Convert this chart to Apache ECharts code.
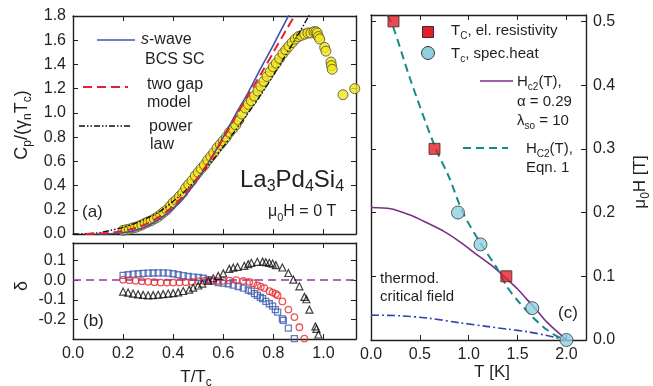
<!DOCTYPE html>
<html>
<head>
<meta charset="utf-8">
<script src="https://cdn.jsdelivr.net/npm/echarts@6/dist/echarts.min.js"></script>
<style>
  html, body { margin: 0; background: #fff; }
  #chart { width: 653px; height: 386px; }
</style>
</head>
<body>
<div id="chart"></div>
<script>
// (a) specific heat, Cp/(gamma_n Tc) vs T/Tc
const cpPoints = [
  [0.200, 0.03], [0.212, 0.035], [0.225, 0.04], [0.238, 0.05], [0.250, 0.055], [0.262, 0.065],
  [0.275, 0.075], [0.288, 0.09], [0.300, 0.10], [0.312, 0.11], [0.325, 0.125], [0.338, 0.14],
  [0.350, 0.16], [0.362, 0.18], [0.375, 0.20], [0.388, 0.23], [0.400, 0.26], [0.412, 0.28],
  [0.425, 0.31], [0.438, 0.34], [0.450, 0.38], [0.462, 0.41], [0.475, 0.44], [0.488, 0.48],
  [0.500, 0.51], [0.512, 0.54], [0.525, 0.57], [0.538, 0.61], [0.550, 0.64], [0.562, 0.67],
  [0.575, 0.71], [0.588, 0.74], [0.600, 0.77], [0.612, 0.80], [0.625, 0.84], [0.638, 0.87],
  [0.650, 0.90], [0.662, 0.94], [0.675, 0.99], [0.688, 1.04], [0.700, 1.07], [0.712, 1.10],
  [0.725, 1.14], [0.738, 1.18], [0.750, 1.22], [0.762, 1.26], [0.775, 1.30], [0.788, 1.34],
  [0.800, 1.38], [0.812, 1.41], [0.825, 1.45], [0.838, 1.49], [0.850, 1.52], [0.862, 1.55],
  [0.875, 1.58], [0.888, 1.61], [0.900, 1.63], [0.912, 1.64], [0.925, 1.65], [0.938, 1.66],
  [0.950, 1.66], [0.962, 1.67], [0.970, 1.67], [0.975, 1.66], [0.980, 1.63], [0.985, 1.61],
  [1.005, 1.54], [1.010, 1.51], [1.030, 1.42], [1.032, 1.39], [1.035, 1.36], [1.078, 1.15],
  [1.125, 1.20]
];
const bcsCurve = [
  [0.10, 0.0], [0.15, 0.002], [0.20, 0.01], [0.25, 0.03], [0.30, 0.07], [0.35, 0.13],
  [0.40, 0.21], [0.45, 0.32], [0.50, 0.46], [0.55, 0.62], [0.60, 0.80], [0.65, 0.99],
  [0.70, 1.17], [0.75, 1.37], [0.80, 1.56], [0.85, 1.76], [0.865, 1.82]
];
const twoGapCurve = [
  [0.05, 0.0], [0.10, 0.003], [0.15, 0.01], [0.20, 0.025], [0.25, 0.05], [0.30, 0.09],
  [0.35, 0.15], [0.40, 0.23], [0.45, 0.34], [0.50, 0.47], [0.55, 0.62], [0.60, 0.79],
  [0.65, 0.97], [0.70, 1.15], [0.75, 1.32], [0.80, 1.50], [0.85, 1.68], [0.89, 1.82]
];
const powerLawCurve = [
  [0.0, 0.0], [0.05, 0.002], [0.10, 0.01], [0.15, 0.03], [0.20, 0.055], [0.25, 0.09],
  [0.30, 0.135], [0.35, 0.19], [0.40, 0.27], [0.45, 0.36], [0.50, 0.47], [0.55, 0.59],
  [0.60, 0.72], [0.65, 0.86], [0.70, 1.00], [0.75, 1.15], [0.80, 1.31], [0.85, 1.48],
  [0.90, 1.65], [0.944, 1.81]
];

// (b) deviation delta of the data from each model
const deltaBcs = [
  [0.200, 0.025], [0.220, 0.028], [0.240, 0.031], [0.260, 0.033], [0.280, 0.035], [0.300, 0.036],
  [0.320, 0.037], [0.340, 0.038], [0.360, 0.038], [0.380, 0.036], [0.400, 0.033], [0.420, 0.028],
  [0.440, 0.023], [0.460, 0.019], [0.480, 0.016], [0.500, 0.014], [0.520, 0.010], [0.540, 0.003],
  [0.560, -0.005], [0.580, -0.012], [0.600, -0.015], [0.620, -0.018], [0.640, -0.025], [0.660, -0.032],
  [0.680, -0.040], [0.700, -0.050], [0.712, -0.056], [0.725, -0.068], [0.736, -0.077], [0.748, -0.088],
  [0.757, -0.094], [0.770, -0.108], [0.784, -0.120], [0.797, -0.132], [0.808, -0.150], [0.817, -0.163],
  [0.836, -0.197], [0.840, -0.205], [0.860, -0.245], [0.884, -0.298]
];
const deltaTwoGap = [
  [0.200, 0.003], [0.225, 0.000], [0.250, -0.003], [0.275, -0.005], [0.300, -0.008], [0.325, -0.010],
  [0.350, -0.012], [0.375, -0.012], [0.400, -0.012], [0.425, -0.011], [0.450, -0.010], [0.475, -0.008],
  [0.500, -0.005], [0.525, -0.004], [0.550, -0.004], [0.575, -0.004], [0.600, -0.003], [0.625, -0.002],
  [0.652, 0.000], [0.680, -0.004], [0.704, -0.008], [0.720, -0.015], [0.736, -0.026], [0.750, -0.033],
  [0.764, -0.040], [0.784, -0.056], [0.797, -0.063], [0.810, -0.070], [0.817, -0.077], [0.836, -0.108],
  [0.860, -0.150], [0.884, -0.188], [0.904, -0.240], [0.924, -0.298]
];
const deltaPower = [
  [0.200, -0.058], [0.220, -0.063], [0.240, -0.068], [0.260, -0.072], [0.280, -0.075], [0.300, -0.077],
  [0.320, -0.076], [0.340, -0.074], [0.360, -0.071], [0.380, -0.068], [0.400, -0.066], [0.420, -0.062],
  [0.440, -0.055], [0.464, -0.048], [0.480, -0.038], [0.500, -0.027], [0.516, -0.017], [0.540, -0.002],
  [0.560, 0.010], [0.580, 0.022], [0.600, 0.035], [0.624, 0.058], [0.640, 0.064], [0.657, 0.068],
  [0.684, 0.073], [0.700, 0.082], [0.712, 0.089], [0.736, 0.094], [0.757, 0.095], [0.770, 0.092],
  [0.784, 0.089], [0.797, 0.085], [0.810, 0.077], [0.836, 0.065], [0.860, 0.037], [0.880, 0.003],
  [0.904, -0.031], [0.924, -0.085], [0.932, -0.097], [0.944, -0.150], [0.968, -0.236], [0.972, -0.248],
  [0.980, -0.277]
];

// (c) phase diagram, mu0H [T] vs T [K]
const tcResistivity = [[0.23, 0.50], [0.65, 0.30], [1.385, 0.10]];
const tcSpecHeat = [[0.89, 0.20], [1.12, 0.15], [1.65, 0.05], [2.0, 0.0]];
const hc2Whh = [
  [0.0, 0.208], [0.2, 0.206], [0.4, 0.196], [0.57, 0.184], [0.75, 0.170], [0.91, 0.154],
  [1.1, 0.132], [1.25, 0.115], [1.38, 0.097], [1.5, 0.080], [1.6, 0.063], [1.7, 0.046],
  [1.8, 0.028], [1.9, 0.014], [2.0, 0.0]
];
const hc2Eqn1 = [
  [0.17, 0.51], [0.23, 0.49], [0.4, 0.41], [0.65, 0.305], [0.8, 0.255], [0.94, 0.20],
  [1.12, 0.152], [1.3, 0.11], [1.39, 0.084], [1.5, 0.062], [1.66, 0.035], [1.8, 0.016],
  [1.9, 0.006], [2.0, 0.0]
];
const hcThermo = [
  [0.0, 0.039], [0.3, 0.038], [0.6, 0.034], [0.91, 0.027], [1.2, 0.021], [1.4, 0.017],
  [1.6, 0.013], [1.8, 0.007], [2.0, 0.0]
];

const FONT = 'Liberation Sans, Arial, sans-serif';
const INK = '#231f20';
const SUB = { fontSize: 11, lineHeight: 11, verticalAlign: 'bottom', fontFamily: FONT, fill: INK };

const fmt1 = v => (Math.round(v * 10) / 10).toFixed(1);

function axis(gi, pos, min, max, interval, labels, extra) {
  return Object.assign({
    type: 'value', gridIndex: gi, position: pos, min: min, max: max, interval: interval,
    axisLine: { show: true, onZero: false, lineStyle: { color: INK, width: 1.4 } },
    axisTick: { show: true, inside: true, length: 5, lineStyle: { color: INK, width: 1 } },
    splitLine: { show: false },
    axisLabel: labels ? { show: true, color: INK, fontSize: 16, fontFamily: FONT, margin: 7, formatter: fmt1, showMaxLabel: false }
                      : { show: false }
  }, extra || {});
}

function txt(x, y, text, size, opts) {
  const o = opts || {};
  return {
    type: 'text', x: x, y: y, rotation: o.rot || 0, z: 20,
    style: {
      text: text, fontSize: size, fontFamily: FONT, fill: INK,
      align: o.align || 'left', verticalAlign: 'middle',
      rich: {
        n: { fontSize: size, lineHeight: size + 6, fontFamily: FONT, fill: INK },
        s: Object.assign({}, SUB, { fontSize: Math.round(size * 0.68), lineHeight: Math.round(size * 0.68) }),
        i: { fontSize: size, lineHeight: size + 6, fontFamily: FONT, fontStyle: 'italic', fill: INK }
      }
    }
  };
}
function seg(x1, x2, y, color, width, dash) {
  return { type: 'line', z: 20, shape: { x1: x1, y1: y, x2: x2, y2: y },
    style: { stroke: color, lineWidth: width, lineDash: dash || null } };
}

const chart = echarts.init(document.getElementById('chart'), null, { renderer: 'canvas' });

const option = {
  backgroundColor: '#fff',
  animation: false,
  grid: [
    { left: 73, top: 16, width: 283, height: 218 },
    { left: 73, top: 243, width: 283, height: 96 },
    { left: 371, top: 15, width: 215, height: 325 }
  ],
  xAxis: [
    axis(0, 'bottom', 0, 1.13, 0.2, false),
    axis(0, 'top', 0, 1.13, 0.2, false),
    axis(1, 'bottom', 0, 1.13, 0.2, true),
    axis(1, 'top', 0, 1.13, 0.2, false),
    axis(2, 'bottom', 0, 2.2, 0.5, true),
    axis(2, 'top', 0, 2.2, 0.5, false)
  ],
  yAxis: [
    axis(0, 'left', 0, 1.8, 0.2, true, { axisLabel: { show: true, color: INK, fontSize: 16, fontFamily: FONT, margin: 7, formatter: fmt1 } }),
    axis(0, 'right', 0, 1.8, 0.2, false),
    axis(1, 'left', -0.3, 0.19, 0.1, true, { axisLabel: { show: true, color: INK, fontSize: 16, fontFamily: FONT, margin: 7, formatter: fmt1, showMinLabel: false, showMaxLabel: false } }),
    axis(1, 'right', -0.3, 0.19, 0.1, false),
    axis(2, 'right', 0, 0.51, 0.1, true),
    axis(2, 'left', 0, 0.51, 0.1, false)
  ],
  series: [
    // (a)
    { type: 'scatter', xAxisIndex: 0, yAxisIndex: 0, data: cpPoints, symbol: 'circle', symbolSize: 10, z: 2,
      itemStyle: { color: '#f4e51a', borderColor: '#4a4a3a', borderWidth: 1 } },
    { type: 'line', xAxisIndex: 0, yAxisIndex: 0, data: powerLawCurve, showSymbol: false, smooth: 0.3, z: 3,
      lineStyle: { color: '#111', width: 1.4, type: [6, 2, 1.5, 2, 1.5, 2] } },
    { type: 'line', xAxisIndex: 0, yAxisIndex: 0, data: bcsCurve, showSymbol: false, smooth: 0.3, z: 3,
      lineStyle: { color: '#3a55b0', width: 1.6 } },
    { type: 'line', xAxisIndex: 0, yAxisIndex: 0, data: twoGapCurve, showSymbol: false, smooth: 0.3, z: 4,
      lineStyle: { color: '#e8202a', width: 2, type: [9, 5] } },
    // (b)
    { type: 'scatter', xAxisIndex: 2, yAxisIndex: 2, data: deltaBcs, symbol: 'rect', symbolSize: 6, z: 3,
      itemStyle: { color: 'rgba(255,255,255,0)', borderColor: '#3c5cb0', borderWidth: 1.3 },
      markLine: { silent: true, symbol: 'none', label: { show: false }, z: 1,
        lineStyle: { color: '#8e3a9a', width: 1.5, type: [8, 5] }, data: [{ yAxis: 0 }] } },
    { type: 'scatter', xAxisIndex: 2, yAxisIndex: 2, data: deltaTwoGap, symbol: 'circle', symbolSize: 6.5, z: 3,
      itemStyle: { color: 'rgba(255,255,255,0)', borderColor: '#ea2a2a', borderWidth: 1.3 } },
    { type: 'scatter', xAxisIndex: 2, yAxisIndex: 2, data: deltaPower, symbol: 'triangle', symbolSize: 7, z: 3,
      itemStyle: { color: 'rgba(255,255,255,0)', borderColor: '#111', borderWidth: 1.2 } },
    // (c)
    { type: 'line', xAxisIndex: 4, yAxisIndex: 4, data: hcThermo, showSymbol: false, smooth: 0.3, z: 2,
      lineStyle: { color: '#3344aa', width: 1.6, type: [8, 3, 2, 3] } },
    { type: 'line', xAxisIndex: 4, yAxisIndex: 4, data: hc2Whh, showSymbol: false, smooth: 0.3, z: 2,
      lineStyle: { color: '#7b2d87', width: 1.6 } },
    { type: 'line', xAxisIndex: 4, yAxisIndex: 4, data: hc2Eqn1, showSymbol: false, smooth: 0.3, z: 3,
      lineStyle: { color: '#16898a', width: 2, type: [8, 5] } },
    { type: 'scatter', xAxisIndex: 4, yAxisIndex: 4, data: tcResistivity, symbol: 'rect', symbolSize: 11, z: 5,
      itemStyle: { color: '#e41e26', borderColor: '#3a2a2a', borderWidth: 1 } },
    { type: 'scatter', xAxisIndex: 4, yAxisIndex: 4, data: tcSpecHeat, symbol: 'circle', symbolSize: 13, z: 5,
      itemStyle: { color: '#8fd0e0', borderColor: '#3a3a3a', borderWidth: 1 } }
  ],
  graphic: [
    // axis names
    txt(22, 125, '{n|C}{s|p}{n|/(γ}{s|n}{n|T}{s|c}{n|)}', 18, { rot: Math.PI / 2, align: 'center' }),
    txt(22, 286, '{n|δ}', 18, { rot: Math.PI / 2, align: 'center' }),
    txt(196, 377, '{n|T/T}{s|c}', 17, { align: 'center' }),
    txt(492, 372, '{n|T [K]}', 17, { align: 'center' }),
    txt(640, 182, '{n|μ}{s|0}{n|H [T]}', 17, { rot: Math.PI / 2, align: 'center' }),
    // (a) legend
    seg(97, 135, 40, '#3a55b0', 1.6),
    txt(141, 40, '{i|s}{n|-wave}', 16),
    txt(145, 60, '{n|BCS SC}', 16),
    seg(83, 128, 87, '#e8202a', 2, [9, 5]),
    txt(147, 85, '{n|two gap}', 16),
    txt(147, 103, '{n|model}', 16),
    seg(79, 132, 126, '#111', 1.4, [6, 2, 1.5, 2, 1.5, 2]),
    txt(149, 127, '{n|power}', 16),
    txt(150, 145, '{n|law}', 16),
    txt(240, 180, '{n|La}{s|3}{n|Pd}{s|4}{n|Si}{s|4}', 24),
    txt(268, 212, '{n|μ}{s|0}{n|H = 0 T}', 16),
    txt(82, 212, '{n|(a)}', 17),
    txt(83, 321, '{n|(b)}', 17),
    // (c) legend
    { type: 'rect', z: 20, shape: { x: 422.5, y: 26.5, width: 11, height: 11 },
      style: { fill: '#e41e26', stroke: '#3a2a2a', lineWidth: 1 } },
    txt(451, 31, '{n|T}{s|C}{n|, el. resistivity}', 15),
    { type: 'circle', z: 20, shape: { cx: 428, cy: 53, r: 6.5 },
      style: { fill: '#8fd0e0', stroke: '#3a3a3a', lineWidth: 1 } },
    txt(451, 54, '{n|T}{s|c}{n|, spec.heat}', 15),
    seg(480, 513, 81, '#7b2d87', 1.6),
    txt(517, 82, '{n|H}{s|c2}{n|(T),}', 15),
    txt(517, 102, '{n|α = 0.29}', 15),
    txt(517, 121, '{n|λ}{s|so}{n| = 10}', 15),
    seg(463, 508, 148, '#16898a', 2, [8, 5]),
    txt(526, 149, '{n|H}{s|C2}{n|(T),}', 15),
    txt(526, 168, '{n|Eqn. 1}', 15),
    txt(380, 279, '{n|thermod.}', 15),
    txt(380, 297, '{n|critical field}', 15),
    txt(568, 313, '{n|(c)}', 17, { align: 'center' })
  ]
};

chart.setOption(option);
</script>
</body>
</html>
